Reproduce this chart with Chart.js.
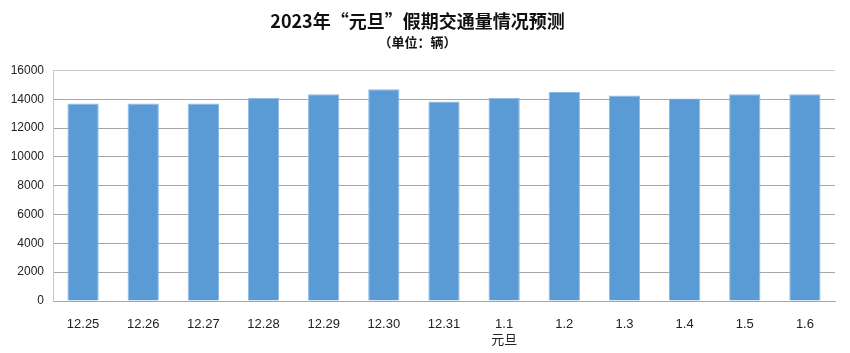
<!DOCTYPE html>
<html>
<head>
<meta charset="utf-8">
<script src="https://cdn.jsdelivr.net/npm/chart.js@4"></script>
<style>
  html, body { margin: 0; padding: 0; background: #fff; }
  #wrap { width: 850px; height: 353px; }
</style>
</head>
<body>
<div id="wrap"><canvas id="trafficChart" width="850" height="353"></canvas></div>
<script>
// dates of the holiday period (1.1 carries a second line)
const days = ['12.25', '12.26', '12.27', '12.28', '12.29', '12.30', '12.31', ['1.1', '元旦'], '1.2', '1.3', '1.4', '1.5', '1.6'];
// predicted traffic, vehicles
const vehicles = [13700, 13700, 13700, 14100, 14350, 14700, 13850, 14100, 14500, 14250, 14050, 14350, 14350];
const yMax = 16000;
const yStep = 2000;

const labelFont = '"Liberation Sans", "Noto Sans CJK SC", sans-serif';
const titleFont = '"Noto Sans CJK SC", "Liberation Serif", serif';

document.addEventListener("DOMContentLoaded", function() {
    let ctx = document.getElementById('trafficChart').getContext('2d');
    new Chart(ctx, {
        type: 'bar',
        data: {
            labels: days,
            datasets: [{
                label: '交通量',
                data: vehicles,
                backgroundColor: '#5B9BD5',
                borderColor: '#8DBBE6',
                borderWidth: 1,
                categoryPercentage: 1,
                barPercentage: 0.52
            }]
        },
        options: {
            responsive: false,
            animation: false,
            layout: { padding: { left: 0, right: 15, top: 0, bottom: 0 } },
            plugins: {
                legend: { display: false },
                tooltip: { enabled: false },
                title: {
                    display: true,
                    text: '2023年“元旦”假期交通量情况预测',
                    color: '#111',
                    font: { family: titleFont, size: 18, weight: 'bold', lineHeight: 1.1 },
                    padding: { top: 11, bottom: 0 }
                },
                subtitle: {
                    display: true,
                    text: '（单位：辆）',
                    color: '#111',
                    font: { family: titleFont, size: 13, weight: 'bold' },
                    padding: { top: 3, bottom: 21 }
                }
            },
            scales: {
                x: {
                    grid: { display: false },
                    border: { display: true, color: '#A6A6A6', width: 1 },
                    ticks: {
                        color: '#222',
                        font: { family: labelFont, size: 13 },
                        padding: 8,
                        maxRotation: 0,
                        autoSkip: false
                    },
                    afterFit: function(scale) { scale.height = 52; }
                },
                y: {
                    min: 0,
                    max: yMax,
                    ticks: {
                        stepSize: yStep,
                        color: '#222',
                        font: { family: labelFont, size: 12 },
                        padding: 9,
                        callback: function(v) { return String(v); }
                    },
                    grid: {
                        drawTicks: false,
                        color: function(c) {
                            if (c.tick && c.tick.value === yMax) return '#C9C9C9';
                            return '#A6A6A6';
                        }
                    },
                    border: { display: true, color: '#C9C9C9', width: 1 },
                    afterFit: function(scale) { scale.width = 53; }
                }
            }
        }
    });
});
</script>
</body>
</html>
